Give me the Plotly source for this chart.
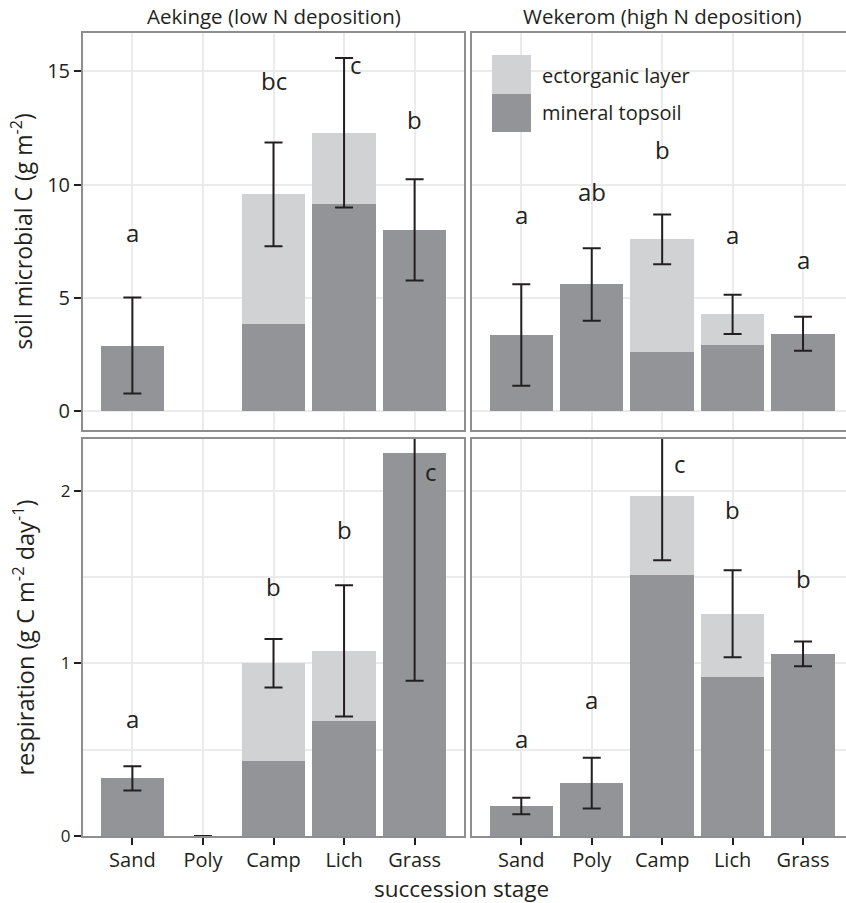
import plotly.graph_objects as go

stages = ["Sand", "Poly", "Camp", "Lich", "Grass"]

# soil microbial C (g m-2)
mic_aek_mineral = [2.89, None, 3.85, 9.16, 8.0]
mic_aek_ecto = [0.0, None, 5.72, 3.13, 0.0]
mic_aek_err = [2.12, None, 2.29, 3.30, 2.24]
mic_aek_letters = ["a", "", "bc", "c", "b"]
mic_aek_letter_y = [7.9, None, 14.6, 15.3, 12.9]

mic_wek_mineral = [3.36, 5.59, 2.62, 2.93, 3.41]
mic_wek_ecto = [0.0, 0.0, 4.96, 1.34, 0.0]
mic_wek_err = [2.24, 1.60, 1.10, 0.87, 0.75]
mic_wek_letters = ["a", "ab", "b", "a", "a"]
mic_wek_letter_y = [8.68, 9.7, 11.55, 7.8, 6.7]

# respiration (g C m-2 day-1)
res_aek_mineral = [0.334, 0.0, 0.437, 0.667, 2.22]
res_aek_ecto = [0.0, 0.0, 0.564, 0.405, 0.0]
res_aek_err = [0.07, 0.0, 0.14, 0.38, 1.32]
res_aek_letters = ["a", "", "b", "b", "c"]
res_aek_letter_y = [0.68, None, 1.445, 1.774, 2.11]

res_wek_mineral = [0.174, 0.307, 1.515, 0.924, 1.055]
res_wek_ecto = [0.0, 0.0, 0.456, 0.363, 0.0]
res_wek_err = [0.048, 0.147, 0.373, 0.252, 0.072]
res_wek_letters = ["a", "a", "c", "b", "b"]
res_wek_letter_y = [0.566, 0.788, 2.16, 1.894, 1.494]

DARK = "#939498"
LIGHT = "#d1d2d4"
GRID = "#ebebec"
BORDER = "#8e8e8e"
INK = "#231f20"
FONT = "Open Sans"

W, H = 846, 903
ML, MR, MT, MB = 83, 0, 33, 67
PW = W - ML - MR
PH = H - MT - MB


def px_x(p):
    return (p - ML) / PW


def px_y(p):
    return (H - MB - p) / PH


fig = go.Figure()

panels = [
    ("x", "y", mic_aek_mineral, mic_aek_ecto, mic_aek_err, mic_aek_letters, mic_aek_letter_y),
    ("x2", "y2", mic_wek_mineral, mic_wek_ecto, mic_wek_err, mic_wek_letters, mic_wek_letter_y),
    ("x3", "y3", res_aek_mineral, res_aek_ecto, res_aek_err, res_aek_letters, res_aek_letter_y),
    ("x4", "y4", res_wek_mineral, res_wek_ecto, res_wek_err, res_wek_letters, res_wek_letter_y),
]

letter_xshift = {("x", "c"): 12, ("x3", "c"): 16, ("x4", "c"): 18}

for xa, ya, mineral, ecto, err, letters, ly in panels:
    fig.add_trace(go.Bar(x=stages, y=mineral, marker_color=DARK, marker_line_width=0,
                         width=0.9, xaxis=xa, yaxis=ya, showlegend=False))
    fig.add_trace(go.Bar(x=stages, y=ecto, marker_color=LIGHT, marker_line_width=0,
                         width=0.9, xaxis=xa, yaxis=ya, showlegend=False))
    totals = [None if m is None else m + (e or 0) for m, e in zip(mineral, ecto)]
    fig.add_trace(go.Scatter(x=stages, y=totals, mode="markers", marker=dict(size=0.1, color=INK, opacity=0),
                             error_y=dict(type="data", array=err, color=INK, thickness=2, width=9, visible=True),
                             xaxis=xa, yaxis=ya, showlegend=False, hoverinfo="skip"))
    for s, t, yy in zip(stages, letters, ly):
        if t and yy is not None:
            fig.add_annotation(x=s, y=yy, text=t, showarrow=False, xref=xa, yref=ya,
                               xanchor="center", yanchor="middle",
                               xshift=letter_xshift.get((xa, t), 0),
                               font=dict(family=FONT, size=24, color=INK))

xl = [px_x(83), px_x(464)]
xr = [px_x(472), 1.0]
yt = [px_y(430), 1.0]
yb = [0.0, px_y(439)]

common_x = dict(type="category", categoryorder="array", categoryarray=stages,
                showgrid=True, gridcolor=GRID, gridwidth=1.5, linecolor=BORDER, linewidth=2,
                showline=True, zeroline=False)
common_y = dict(showgrid=True, gridcolor=GRID, gridwidth=1.5, linecolor=BORDER, linewidth=2,
                showline=True, zeroline=False)

fig.update_layout(
    width=W, height=H,
    margin=dict(l=ML, r=MR, t=MT, b=MB),
    paper_bgcolor="white", plot_bgcolor="white",
    barmode="stack", bargap=0.1,
    font=dict(family=FONT, color=INK),
    showlegend=False,
    xaxis=dict(common_x, domain=xl, anchor="y", range=[-0.7, 4.7], mirror=True,
               showticklabels=False, ticks=""),
    xaxis2=dict(common_x, domain=xr, anchor="y2", range=[-0.7, 4.61], mirror=True,
                showticklabels=False, ticks=""),
    xaxis3=dict(common_x, domain=xl, anchor="y3", range=[-0.7, 4.7], mirror=True,
                ticks="outside", ticklen=7, tickwidth=1.5, tickcolor=INK, ticklabelstandoff=-2,
                tickfont=dict(size=20, color=INK)),
    xaxis4=dict(common_x, domain=xr, anchor="y4", range=[-0.7, 4.61], mirror=True,
                ticks="outside", ticklen=7, tickwidth=1.5, tickcolor=INK, ticklabelstandoff=-2,
                tickfont=dict(size=20, color=INK)),
    yaxis=dict(common_y, domain=yt, anchor="x", range=[-0.84, 16.7], mirror=True,
               tickvals=[0, 5, 10, 15], ticks="outside", ticklen=7, tickwidth=1.5, tickcolor=INK,
               tickfont=dict(size=20, color=INK),
               title=dict(text="soil microbial C (g m<sup>-2</sup>)", font=dict(size=23, color=INK), standoff=8)),
    yaxis2=dict(common_y, domain=yt, anchor="x2", range=[-0.84, 16.7], mirror=False,
                tickvals=[0, 5, 10, 15], showticklabels=False, ticks=""),
    yaxis3=dict(common_y, domain=yb, anchor="x3", range=[0, 2.30], mirror=True,
                tickvals=[0, 1, 2], ticks="outside", ticklen=7, tickwidth=1.5, tickcolor=INK,
                tickfont=dict(size=17, color=INK),
                minor=dict(dtick=0.5, showgrid=True, gridcolor=GRID, gridwidth=1.5, ticks=""),
                title=dict(text="respiration (g C m<sup>-2</sup> day<sup>-1</sup>)", font=dict(size=23.5, color=INK), standoff=20)),
    yaxis4=dict(common_y, domain=yb, anchor="x4", range=[0, 2.30], mirror=False,
                tickvals=[0, 1, 2], showticklabels=False, ticks="",
                minor=dict(dtick=0.5, showgrid=True, gridcolor=GRID, gridwidth=1.5, ticks="")),
)

# facet titles
fig.add_annotation(x=(xl[0] + xl[1]) / 2, y=px_y(16), xref="paper", yref="paper",
                   xanchor="center", yanchor="middle",
                   text="Aekinge (low N deposition)", showarrow=False,
                   font=dict(size=20.5, color=INK))
fig.add_annotation(x=px_x(662), y=px_y(16), xref="paper", yref="paper",
                   xanchor="center", yanchor="middle",
                   text="Wekerom (high N deposition)", showarrow=False,
                   font=dict(size=20.5, color=INK))
# x axis title
fig.add_annotation(x=px_x(461), y=px_y(888), xref="paper", yref="paper",
                   xanchor="center", yanchor="middle",
                   text="succession stage", showarrow=False,
                   font=dict(size=22.5, color=INK))

# legend (drawn in top-right panel)
fig.add_shape(type="rect", xref="paper", yref="paper", x0=px_x(492), x1=px_x(531),
              y0=px_y(94), y1=px_y(55), fillcolor=LIGHT, line_width=0)
fig.add_shape(type="rect", xref="paper", yref="paper", x0=px_x(492), x1=px_x(531),
              y0=px_y(132), y1=px_y(94), fillcolor=DARK, line_width=0)
fig.add_annotation(x=px_x(540), y=px_y(75), xref="paper", yref="paper",
                   xanchor="left", yanchor="middle",
                   text="ectorganic layer", showarrow=False, font=dict(size=20, color=INK))
fig.add_annotation(x=px_x(540), y=px_y(113), xref="paper", yref="paper",
                   xanchor="left", yanchor="middle",
                   text="mineral topsoil", showarrow=False, font=dict(size=20, color=INK))

fig.write_html("out.html")
